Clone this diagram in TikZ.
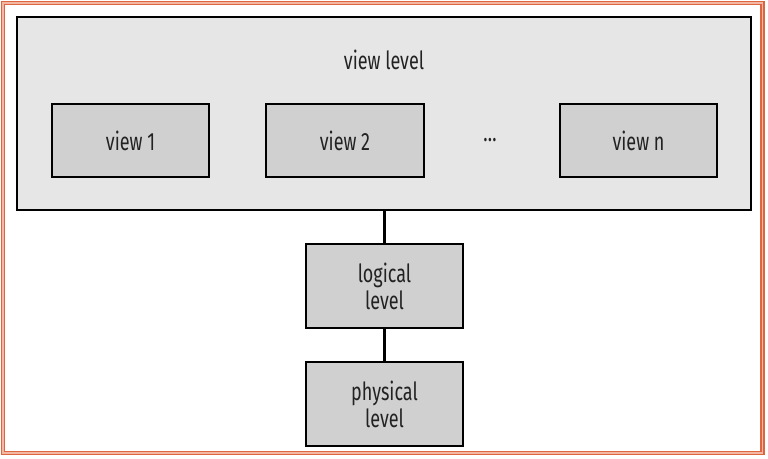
\documentclass[tikz,border=0pt]{standalone}
\usepackage{fontspec}
\setmainfont[FakeStretch=0.72]{Fira Sans}
\definecolor{outerfill}{HTML}{E6E6E6}
\definecolor{boxfill}{HTML}{D0D0D0}
\definecolor{frameor}{HTML}{DD6640}
\definecolor{framelt}{HTML}{F2B8A4}
\definecolor{txt}{HTML}{222222}
\begin{document}
\begin{tikzpicture}[x=1pt,y=-1pt,
  lvl/.style={draw=black, line width=1.8pt, fill=boxfill, inner sep=0pt,
    text=txt, font=\fontsize{25}{27}\selectfont, align=center},
  lbl/.style={text=txt, font=\fontsize{25}{27}\selectfont, inner sep=0pt},
  conn/.style={draw=black, line width=2.2pt}]
\useasboundingbox (0,0) rectangle (768,458);
% frame
\draw[framelt, line width=3pt] (3,3) rectangle (762.5,453);
\draw[frameor, line width=1.2pt] (1.5,1.5) rectangle (764,454.5);
\draw[frameor, line width=1.2pt] (4.5,4.5) rectangle (761,451.5);
% outer box
\node[lvl, fill=outerfill, minimum width=734pt, minimum height=193pt] (big) at (384,113.5) {};
\node[lbl] (vl) at (384,60) {view level};
\node[lvl, minimum width=157pt, minimum height=73pt] (v1) at (130.5,140.5) {view 1};
\node[lvl, minimum width=158pt, minimum height=73pt] (v2) at (345,140.5) {view 2};
\node[lbl] (dots) at (490,140) {\dots};
\node[lvl, minimum width=157pt, minimum height=73pt] (vn) at (638.5,140.5) {view n};
\node[lvl, minimum width=157pt, minimum height=84pt] (log) at (384.5,286) {logical\\level};
\node[lvl, minimum width=157pt, minimum height=84pt] (phy) at (384.5,404) {physical\\level};
\draw[conn] (big.south -| log.north) -- (log.north);
\draw[conn] (log.south) -- (phy.north);
\end{tikzpicture}
\end{document}
